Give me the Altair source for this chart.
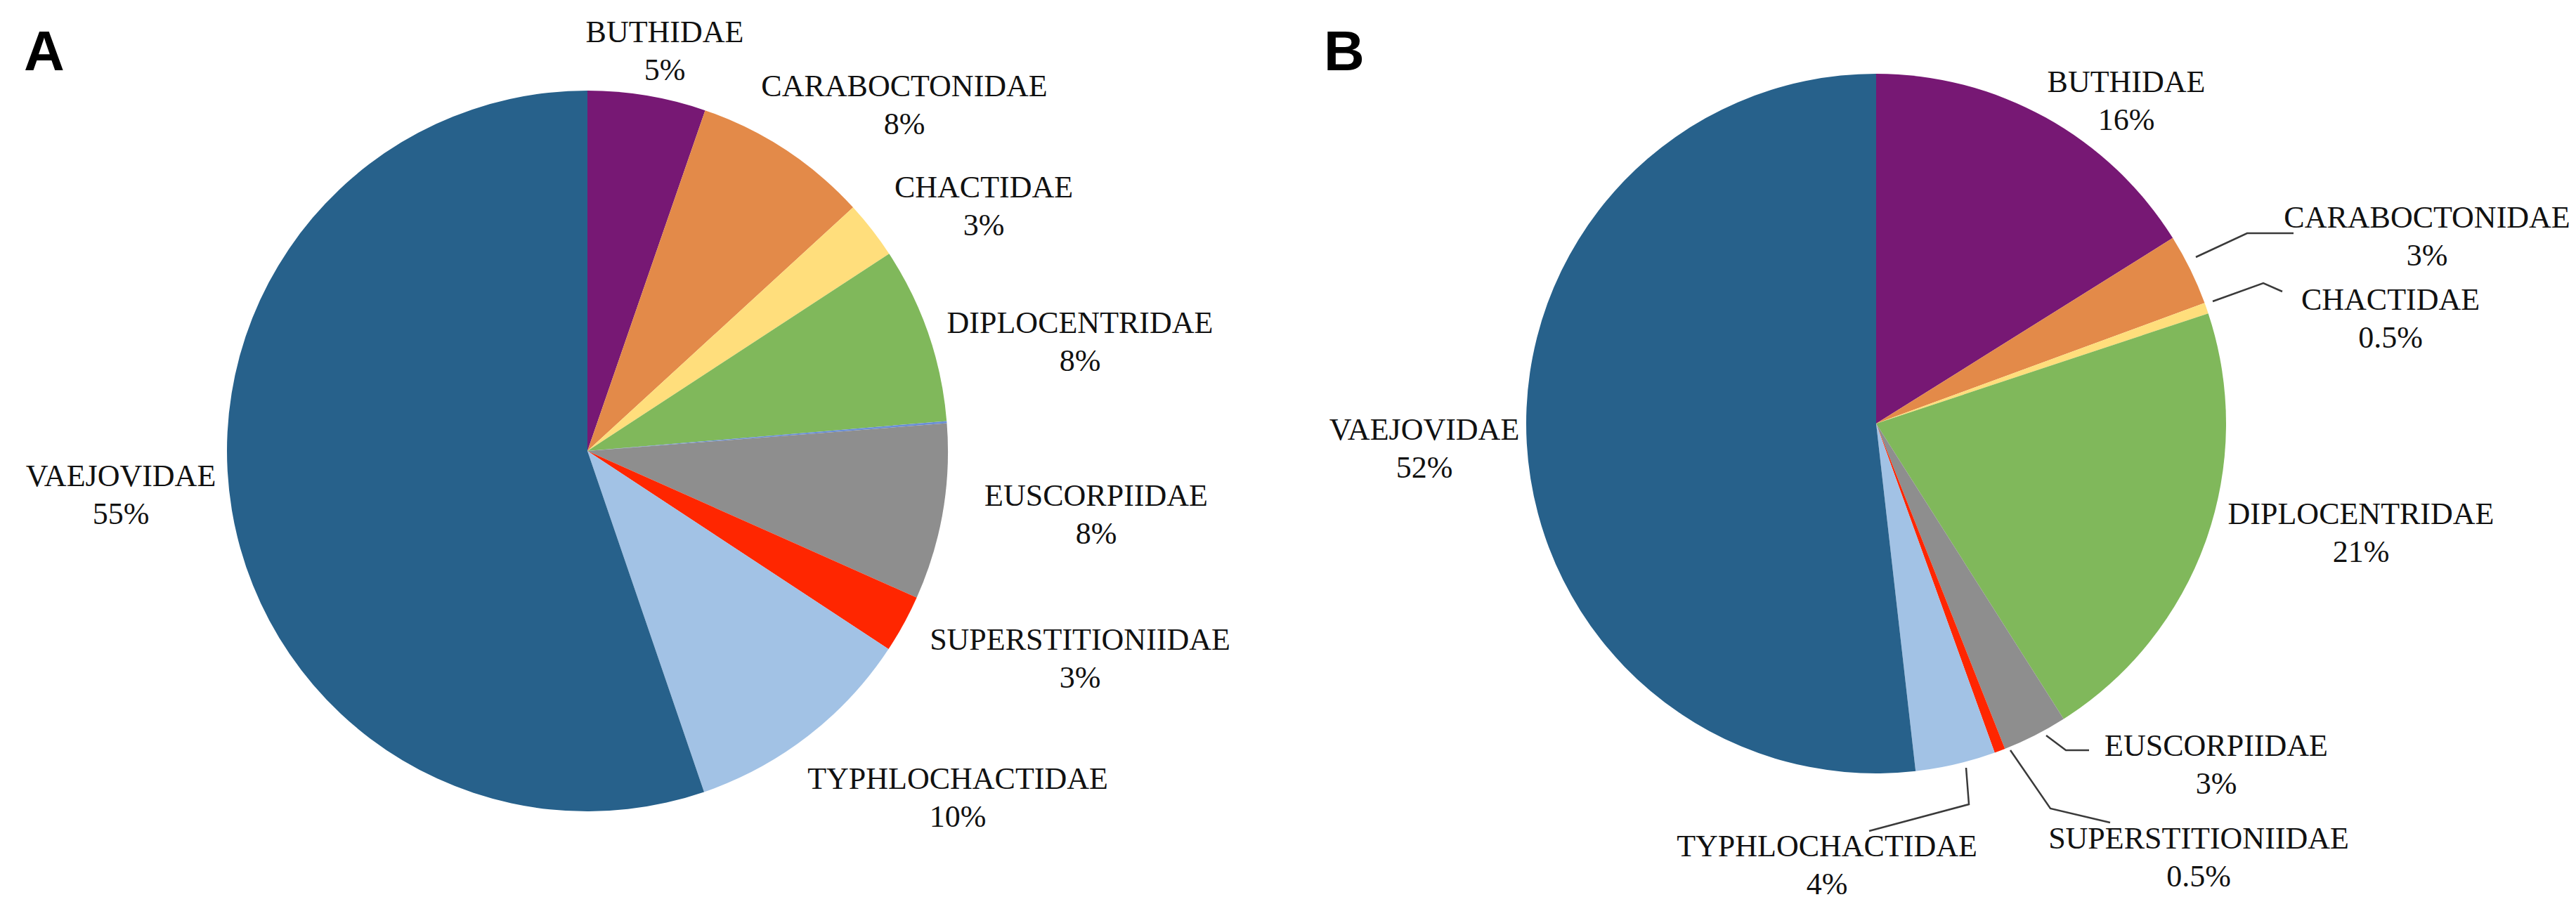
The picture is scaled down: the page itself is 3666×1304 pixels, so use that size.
import altair as alt
import pandas as pd

# ---------------- data ----------------
families = ["BUTHIDAE", "CARABOCTONIDAE", "CHACTIDAE", "DIPLOCENTRIDAE",
            "EUSCORPIIDAE", "SUPERSTITIONIIDAE", "TYPHLOCHACTIDAE", "VAEJOVIDAE"]

# Panel A (shares) - includes a tiny unlabelled sliver
a_groups = ["BUTHIDAE", "CARABOCTONIDAE", "CHACTIDAE", "DIPLOCENTRIDAE", "OTHER",
            "EUSCORPIIDAE", "SUPERSTITIONIIDAE", "TYPHLOCHACTIDAE", "VAEJOVIDAE"]
a_share = [5.3, 7.9, 2.6, 7.9, 0.1, 7.9, 2.6, 10.5, 55.3]
a_pct_labels = ["5%", "8%", "3%", "8%", "8%", "3%", "10%", "55%"]

# Panel B
b_groups = families
b_share = [16.1, 3.3, 0.5, 21.1, 3.0, 0.5, 3.7, 51.8]
b_pct_labels = ["16%", "3%", "0.5%", "21%", "3%", "0.5%", "4%", "52%"]

colors = ["#771874", "#E38A49", "#FFDE7C", "#80B85B", "#6A8ED6",
          "#8E8E8E", "#FF2600", "#A2C2E5", "#27618B"]
color_domain = ["BUTHIDAE", "CARABOCTONIDAE", "CHACTIDAE", "DIPLOCENTRIDAE", "OTHER",
                "EUSCORPIIDAE", "SUPERSTITIONIIDAE", "TYPHLOCHACTIDAE", "VAEJOVIDAE"]

# ---------------- layout (pixels) ----------------
A_CX, A_CY, A_R = 828, 634, 513
B_CX, B_CY, B_R = 2662, 595, 498
a_label_x = [938, 1279, 1392, 1529, 1552, 1529, 1355, 164]
a_label_y = [52, 129, 273, 466, 712, 917, 1115, 684]
b_label_x = [3018, 3446, 3394, 3352, 3146, 3121, 2592, 2019]
b_label_y = [123, 316, 433, 738, 1068, 1200, 1211, 618]

# leader lines of panel B: (family, [(x, y), ...])
b_leaders = [
    ("CARABOCTONIDAE", [(3117, 358), (3190, 324), (3256, 324)]),
    ("CHACTIDAE", [(3141, 421), (3213, 395), (3240, 407)]),
    ("EUSCORPIIDAE", [(2904, 1039), (2932, 1060), (2965, 1060)]),
    ("SUPERSTITIONIIDAE", [(2853, 1060), (2910, 1143), (2995, 1163)]),
    ("TYPHLOCHACTIDAE", [(2790, 1085), (2794, 1137), (2652, 1175)]),
]

SERIF = "Liberation Serif, Times New Roman, serif"
SANS = "Liberation Sans, Arial, sans-serif"
FS = 44
LH = 54

color_scale = alt.Scale(domain=color_domain, range=colors)

dfA = pd.DataFrame({"group": a_groups, "share": a_share, "idx": list(range(len(a_groups)))})
dfB = pd.DataFrame({"group": b_groups, "share": b_share, "idx": list(range(len(b_groups)))})


def pie(df, cx, cy, r):
    return alt.Chart(df).mark_arc(radius=r).encode(
        theta=alt.Theta("share:Q", stack="normalize"),
        color=alt.Color("group:N", scale=color_scale, legend=None),
        order=alt.Order("idx:Q"),
        x=alt.value(cx),
        y=alt.value(cy),
    )


labA = pd.DataFrame({
    "label": [f"{f}\n{p}" for f, p in zip(families, a_pct_labels)],
    "lx": a_label_x, "ly": a_label_y,
})
labB = pd.DataFrame({
    "label": [f"{f}\n{p}" for f, p in zip(families, b_pct_labels)],
    "lx": b_label_x, "ly": b_label_y,
})
labels = pd.concat([labA, labB], ignore_index=True)

text_layer = alt.Chart(labels).mark_text(
    font=SERIF, fontSize=FS, lineBreak="\n", lineHeight=LH,
    align="center", baseline="alphabetic", color="#111111"
).encode(
    x=alt.X("lx:Q", scale=None, axis=None),
    y=alt.Y("ly:Q", scale=None, axis=None),
    text="label:N",
)

rows = []
for fam, pts in b_leaders:
    for k, (px, py) in enumerate(pts):
        rows.append({"seg": fam, "k": k, "px": px, "py": py})
leader_df = pd.DataFrame(rows)
leader_layer = alt.Chart(leader_df).mark_line(color="#3a3a3a", strokeWidth=2.5).encode(
    x=alt.X("px:Q", scale=None, axis=None),
    y=alt.Y("py:Q", scale=None, axis=None),
    detail="seg:N",
    order="k:Q",
)

panel_df = pd.DataFrame({"t": ["A", "B"], "px": [26, 1876], "py": [92, 92]})
panel_layer = alt.Chart(panel_df).mark_text(
    font=SANS, fontSize=80, fontWeight="bold", align="left",
    baseline="alphabetic", color="#000000"
).encode(
    x=alt.X("px:Q", scale=None, axis=None),
    y=alt.Y("py:Q", scale=None, axis=None),
    text="t:N",
)

chart = alt.layer(
    pie(dfA, A_CX, A_CY, A_R),
    pie(dfB, B_CX, B_CY, B_R),
    leader_layer,
    text_layer,
    panel_layer,
).properties(
    width=3650, height=1290, autosize="none", padding=0, background="white"
).configure_view(stroke=None)

chart.save("out.html", embed_options={"renderer": "svg", "actions": False})
